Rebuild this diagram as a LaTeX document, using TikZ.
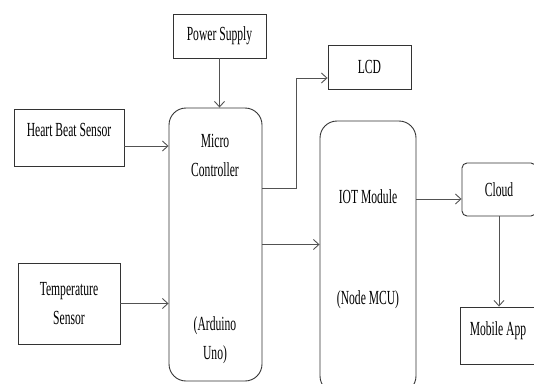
\documentclass[tikz,border=0pt]{standalone}
\usepackage{fontspec}
\newfontfamily\blockfont[FakeStretch=0.58]{Liberation Serif}
\usetikzlibrary{arrows.meta}
\usetikzlibrary{calc}
\tikzset{>={Straight Barb[length=5.5pt,width=10pt]}}
\colorlet{boxcol}{black!80}
\colorlet{linecol}{black!68}
\tikzstyle{block}=[draw=boxcol,line width=0.9pt,inner sep=0pt,font=\blockfont\fontsize{20}{29}\selectfont,align=center]
\tikzstyle{roundblock}=[block,rounded corners=17pt]
\tikzstyle{label}=[inner sep=0pt,font=\blockfont\fontsize{20}{29}\selectfont]
\tikzstyle{link}=[->,draw=linecol,line width=0.9pt]

\begin{document}
\begin{tikzpicture}[x=1pt,y=-1pt]
  \useasboundingbox (0,0) rectangle (534,383);
  \clip (0,0) rectangle (534,383);

  % input side
  \node[block,minimum width=93pt,minimum height=44pt] (power) at (219.5,36) {Power Supply};
  \node[block,minimum width=110pt,minimum height=57pt,text depth=15pt] (hbs) at (69,137.5) {Heart Beat Sensor};
  \node[block,minimum width=102pt,minimum height=81pt] (temp) at (69,303.5) {Temperature\\Sensor};

  % controller and output side
  \node[roundblock,minimum width=93pt,minimum height=273pt] (mc) at (215.5,244.5) {};
  \node[block,minimum width=83pt,minimum height=44pt] (lcd) at (369.5,67) {LCD};
  \node[roundblock,minimum width=96pt,minimum height=272pt] (iot) at (368,257) {};
  \node[block,rounded corners=5pt,minimum width=74pt,minimum height=53pt] (cloud) at (499,189.5) {Cloud};
  \node[block,minimum width=76pt,minimum height=57pt,text depth=13pt] (app) at (498,335.5) {Mobile App};

  % texts inside the tall blocks
  \node[label] (mctop) at (215,141) {Micro};
  \node[label] (mcsub) at (215,170) {Controller};
  \node[label] (mcard) at (215,326) {(Arduino};
  \node[label] (mcuno) at (215,355) {Uno)};
  \node[label] (iottop) at (368,197) {IOT Module};
  \node[label] (iotsub) at (368,300) {(Node MCU)};

  % connectors
  \draw[link] (power) -- (power |- mc.north);
  \draw[link] ([yshift=-8.5pt]hbs.east) -- ([yshift=-8.5pt]hbs.east -| mc.west);
  \draw[link] (temp.east) -- (temp.east -| mc.west);
  \draw[link] ([yshift=56.5pt]mc.east) -- ++(34,0) |- ([yshift=-11pt]lcd.west);
  \draw[link] (mc.east) -- (mc.east -| iot.west);
  \draw[link] ([yshift=-9.5pt]cloud.west -| iot.east) -- ([yshift=-9.5pt]cloud.west);
  \draw[link] (cloud.south) -- (cloud.south |- app.north);
\end{tikzpicture}
\end{document}
